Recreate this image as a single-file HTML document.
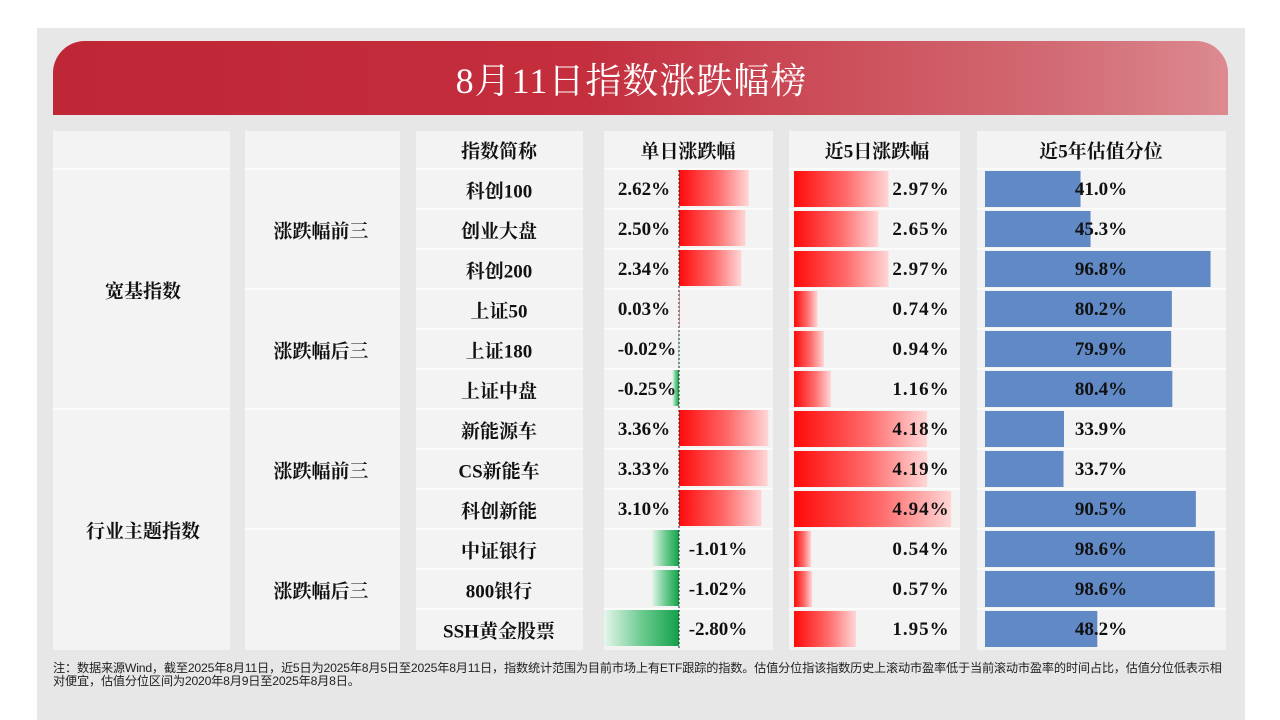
<!DOCTYPE html>
<html><head><meta charset="utf-8">
<style>
*{margin:0;padding:0;box-sizing:border-box}
body{width:1280px;height:720px;background:#fff;position:relative;overflow:hidden;font-family:"Liberation Serif","Noto Serif CJK SC",serif;color:#111}
#panel{position:absolute;left:37px;top:28px;width:1208px;height:692px;background:#e7e7e7}
#hdr{position:absolute;left:53px;top:41px;width:1175px;height:74px;border-radius:32px 32px 0 0;background:linear-gradient(90deg,#bf2636 0%,#c42e3d 45%,#d26a73 85%,#dc8a90 100%);color:#fff;font-family:"Liberation Serif","Noto Serif CJK SC",serif;font-size:36px;text-align:center;line-height:80px;letter-spacing:1px;padding-right:18px}
.col{position:absolute;top:131px;height:519px;background:#f3f3f3}
.cell{position:absolute;font-weight:bold;font-size:19px;white-space:nowrap}
.ctr{transform:translate(-50%,-50%)}
#note{position:absolute;left:53px;top:662px;font-family:"Liberation Sans","Noto Sans CJK SC",sans-serif;font-size:12.2px;line-height:13px;color:#222;white-space:nowrap;letter-spacing:-0.2px}
</style></head><body>
<div id="panel"></div>
<div id="hdr">8月11日指数涨跌幅榜</div>
<div class="col" style="left:53px;width:177px"></div>
<div class="col" style="left:245px;width:155px"></div>
<div class="col" style="left:416px;width:167px"></div>
<div class="col" style="left:604px;width:169px"></div>
<div class="col" style="left:789px;width:171px"></div>
<div class="col" style="left:977px;width:249px"></div>
<svg id="chart" width="1280" height="720" style="position:absolute;left:0;top:0">
<defs>
<linearGradient id="gr" x1="0" x2="1"><stop offset="0" stop-color="#ff0a0a"/><stop offset="0.55" stop-color="#ff6a6a"/><stop offset="1" stop-color="#ffd6d6"/></linearGradient>
<linearGradient id="gg" x1="1" x2="0"><stop offset="0" stop-color="#12a14a"/><stop offset="0.5" stop-color="#6ccb90"/><stop offset="1" stop-color="#e3f5ea"/></linearGradient>
</defs>
</svg>
<div id="layer"></div>
<div id="note">注：数据来源Wind，截至2025年8月11日，近5日为2025年8月5日至2025年8月11日，指数统计范围为目前市场上有ETF跟踪的指数。估值分位指该指数历史上滚动市盈率低于当前滚动市盈率的时间占比，估值分位低表示相<br>对便宜，估值分位区间为2020年8月9日至2025年8月8日。</div>
<script>
const names=["科创100","创业大盘","科创200","上证50","上证180","上证中盘","新能源车","CS新能车","科创新能","中证银行","800银行","SSH黄金股票"];
const daily=[2.62,2.50,2.34,0.03,-0.02,-0.25,3.36,3.33,3.10,-1.01,-1.02,-2.80];
const fiveDay=[2.97,2.65,2.97,0.74,0.94,1.16,4.18,4.19,4.94,0.54,0.57,1.95];
const valuation=[41.0,45.3,96.8,80.2,79.9,80.4,33.9,33.7,90.5,98.6,98.6,48.2];
const headers=["指数简称","单日涨跌幅","近5日涨跌幅","近5年估值分位"];
const groups=["涨跌幅前三","涨跌幅后三","涨跌幅前三","涨跌幅后三"];
const cats=["宽基指数","行业主题指数"];

const svg=document.getElementById('chart'),layer=document.getElementById('layer');
const NS='http://www.w3.org/2000/svg';
const rowTop=i=>170+40*i, rowMid=i=>190+40*i;
const xDaily=v=>679+v*26.6, xFive=v=>794+v*31.8, xVal=v=>985+v*2.33;
function txt(s,x,y,name,extra){const d=document.createElement('div');d.className='cell ctr';d.style.left=x+'px';d.style.top=y+'px';if(extra)Object.assign(d.style,extra);d.textContent=s;


layer.appendChild(d);return d;}
function rect(x,y,w,h,fill,name){const r=document.createElementNS(NS,'rect');r.setAttribute('x',x);r.setAttribute('y',y);r.setAttribute('width',Math.max(w,0.6));r.setAttribute('height',h);r.setAttribute('fill',fill);


svg.appendChild(r);}
[[53,177,6],[245,155,3],[416,167,1],[604,169,1],[789,171,1],[977,249,1]].forEach(c=>{for(let i=0;i<12;i++){if(i%c[2]!==0)continue;rect(c[0],rowTop(i)-2,c[1],1.5,'#fdfdfd','row-separator');}});
const hx=[499,688,877,1101];
headers.forEach((h,i)=>txt(h,hx[i],150,'column-header'));
cats.forEach((c,i)=>txt(c,143,290+240*i,'category-label'));
groups.forEach((g,i)=>txt(g,321,230+120*i,'group-label'));
names.forEach((n,i)=>{
  txt(n,499,rowMid(i),'index-name');
  const d=daily[i];
  if(d>=0)rect(xDaily(0),rowTop(i),xDaily(d)-xDaily(0),36,'url(#gr)','daily-bar');
  else rect(xDaily(d),rowTop(i),xDaily(0)-xDaily(d),36,'url(#gg)','daily-bar');
  const lab=d.toFixed(2)+'%';
  if(d>=0) txt(lab,644,rowMid(i),'daily-value');
  else if(d>-0.5) txt(lab,647,rowMid(i),'daily-value');
  else txt(lab,718,rowMid(i),'daily-value');
  rect(xFive(0),rowTop(i)+1,xFive(fiveDay[i])-xFive(0),36,'url(#gr)','five-day-bar');
  txt(fiveDay[i].toFixed(2)+'%',921,rowMid(i),'five-day-value',{letterSpacing:'1px'});
  rect(xVal(0),rowTop(i)+1,xVal(valuation[i])-xVal(0),36,'#6089c6','valuation-bar');
  txt(valuation[i].toFixed(1)+'%',1101,rowMid(i),'valuation-value');
});
const ln=document.createElementNS(NS,'line');ln.setAttribute('x1',679);ln.setAttribute('x2',679);ln.setAttribute('y1',170);ln.setAttribute('y2',650);ln.setAttribute('stroke','#222');ln.setAttribute('stroke-width',1);ln.setAttribute('stroke-dasharray','2,2');


svg.appendChild(ln);
</script>
</body></html>
